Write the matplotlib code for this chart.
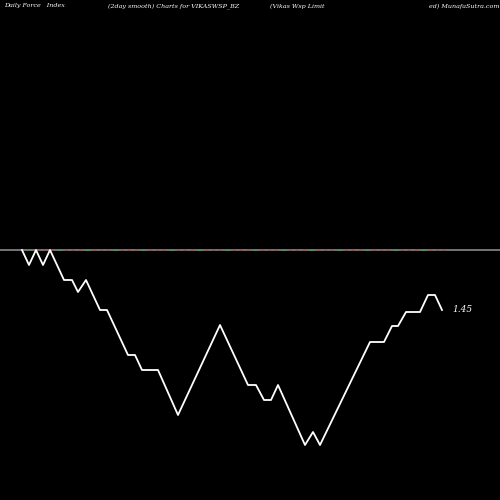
import matplotlib
matplotlib.use("Agg")
import matplotlib.pyplot as plt

xs = [22,29,36,43,50,64,72,78,86,100,107,128,135,142,158,178,220,248,256,264,271,278,305,313,320,370,384,392,398,406,420,428,435,442]
ys = [250,265,250,265,250,280,280,292,280,310,310,355,355,370,370,415,325,385,385,400,400,385,445,432,445,342,342,326,326,312,312,295,295,310]
mark_x = list(range(30, 445, 7))
mark_c = ['#aa4444' if (i % 4) else '#33aa33' for i in range(len(mark_x))]

fig = plt.figure(figsize=(5, 5), dpi=100, facecolor='black')
ax = fig.add_axes([0, 0, 1, 1], facecolor='black')
ax.set_xlim(0, 500); ax.set_ylim(500, 0); ax.axis('off')
ax.plot([0, 500], [250, 250], color='#888888', lw=1.2)
for x, c in zip(mark_x, mark_c):
    ax.plot([x, x + 1.5], [250, 250], color=c, lw=0.8)
ax.plot(xs, ys, color='white', lw=1.3)
ax.text(452, 310, '1.45', color='white', fontsize=6.5, style='italic', family='DejaVu Serif', va='center')
kw = dict(color='white', fontsize=4.6, style='italic', family='DejaVu Serif', va='center')
ax.text(4, 6, 'Daily Force   Index', **kw)
ax.text(108, 6, '(2day smooth) Charts for VIKASWSP_BZ', **kw)
ax.text(270, 6, '(Vikas Wsp Limit', **kw)
ax.text(499, 6, 'ed) MunafaSutra.com', ha='right', **kw)
fig.savefig('out.png', dpi=100, facecolor='black')
